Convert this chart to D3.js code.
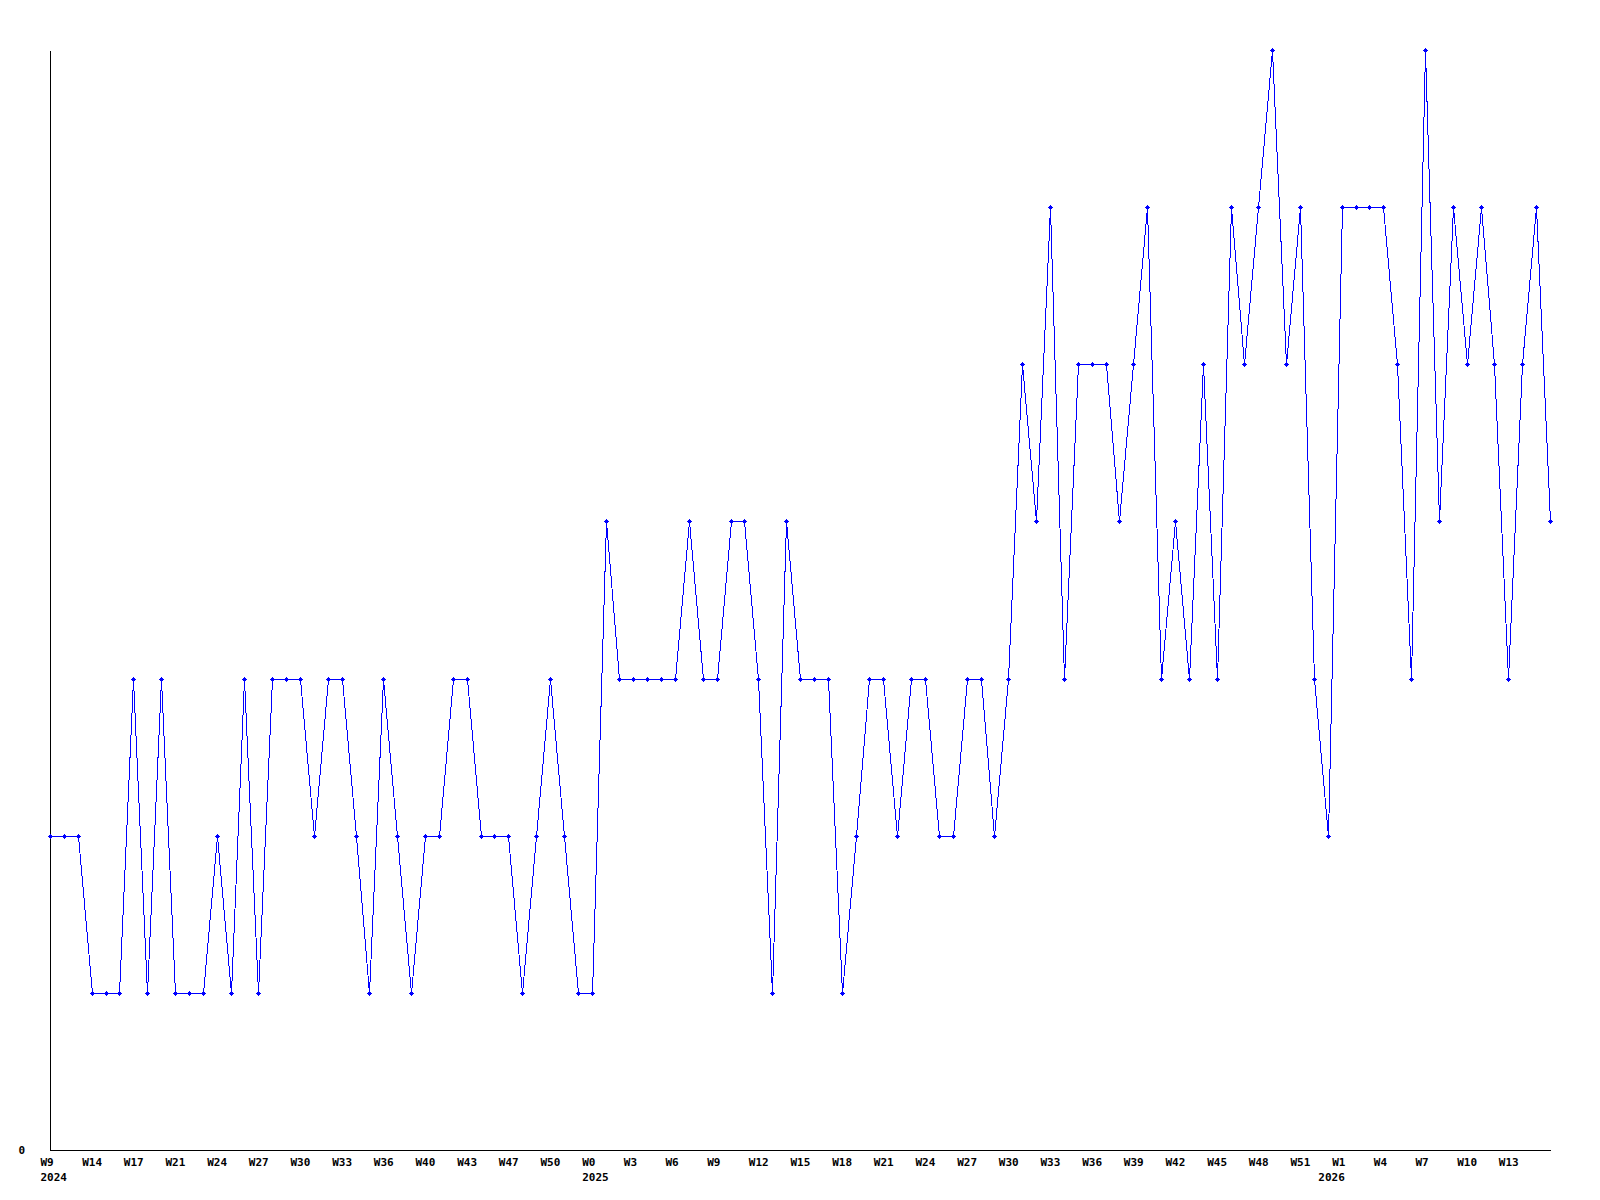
<!DOCTYPE html>
<meta charset="utf-8">
<html>
<style>
body { margin: 0; background: #fff; }
.axis text {
  font: bold 11px "DejaVu Sans Mono", monospace;
  fill: #000;
}
.axis path { stroke: #000; stroke-width: 1px; shape-rendering: crispEdges; }
.line { fill: none; stroke: #0000ff; stroke-width: 1px; shape-rendering: crispEdges; }
.dot { fill: #0000ff; shape-rendering: crispEdges; }
</style>
<svg width="1600" height="1200"></svg>
<script src="https://d3js.org/d3.v7.min.js"></script>
<script>
// one value per sample (weekly)
var values = [
  2,2,2,1,1,1,3,1,3,1,1,1,2,1,3,1,3,3,3,2,
  3,3,2,1,3,2,1,2,2,3,3,2,2,2,1,2,3,2,1,1,
  4,3,3,3,3,3,4,3,3,4,4,3,1,4,3,3,3,1,2,3,
  3,2,3,3,2,2,3,3,2,3,5,4,6,3,5,5,5,4,5,6,
  3,4,3,5,3,6,5,6,7,5,6,3,2,6,6,6,6,5,3,7,
  4,6,5,6,5,3,5,6,4
];

// a week label on every third sample
var weekLabels = ["W9","W14","W17","W21","W24","W27","W30","W33","W36","W40","W43","W47","W50",
  "W0","W3","W6","W9","W12","W15","W18","W21","W24","W27","W30","W33","W36","W39","W42","W45","W48","W51",
  "W1","W4","W7","W10","W13"];
var labelEvery = 3;

// years and the sample where each one starts
var years = ["2024","2025","2026"];
var yearStart = [0, 39, 92];

var yMax = 7;

var svg = d3.select("svg"),
    mLeft = 50, mTop = 50, mRight = 1550, mBottom = 1150;

var x = d3.scaleLinear()
    .domain([0, values.length - 1])
    .range([mLeft, mRight]);

var y = d3.scaleLinear()
    .domain([0, yMax])
    .range([mBottom, mTop]);

var tickIdx = weekLabels.map((d, i) => i * labelEvery);

svg.append("g")
    .attr("class", "axis")
    .attr("transform", "translate(" + mLeft + ",0)")
    .call(d3.axisLeft(y).tickValues([0]).tickSize(0).tickSizeOuter(0).tickPadding(25).tickFormat(d3.format("d")));

var xAxis = svg.append("g")
    .attr("class", "axis")
    .attr("transform", "translate(0," + mBottom + ")")
    .call(d3.axisBottom(x).tickValues(tickIdx).tickSize(0).tickSizeOuter(0).tickPadding(8)
      .tickFormat(d => weekLabels[d / labelEvery]));
xAxis.selectAll("text").attr("text-anchor", "start").attr("x", -10);

var yearAxis = svg.append("g")
    .attr("class", "axis")
    .attr("transform", "translate(0," + mBottom + ")")
    .call(d3.axisBottom(x).tickValues(yearStart).tickSize(0).tickPadding(23)
      .tickFormat((d, i) => years[i]));
yearAxis.select(".domain").remove();
yearAxis.selectAll("text").attr("text-anchor", "start").attr("x", -10);

var line = d3.line()
    .x((d, i) => Math.round(x(i)) + 0.5)
    .y(d => Math.round(y(d)) + 0.5);

svg.append("path")
    .datum(values)
    .attr("class", "line")
    .attr("d", line);

// small plus-shaped markers
svg.append("g")
  .selectAll("path")
  .data(values)
  .join("path")
    .attr("class", "dot")
    .attr("transform", (d, i) => "translate(" + Math.round(x(i)) + "," + Math.round(y(d)) + ")")
    .attr("d", "M-2,0h5v1h-5z M0,-2h1v5h-1z M-1,-1h3v3h-3z");
</script>
</html>
